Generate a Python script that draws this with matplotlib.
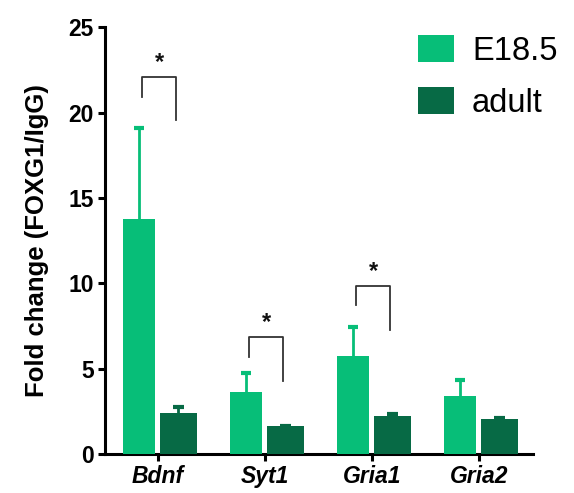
import matplotlib
matplotlib.use('Agg')
import matplotlib.pyplot as plt
import numpy as np

plt.rcParams['font.family'] = ['Liberation Sans', 'DejaVu Sans']

genes = ['Bdnf', 'Syt1', 'Gria1', 'Gria2']
groups = ['E18.5', 'adult']
e185_mean = [13.75, 3.63, 5.74, 3.4]
e185_err = [5.35, 1.1, 1.7, 0.93]
adult_mean = [2.42, 1.62, 2.2, 2.05]
adult_err = [0.33, 0.05, 0.12, 0.08]

# significance brackets: gene index, top, left leg bottom, right leg bottom
sig_idx = [0, 1, 2]
sig_top = [22.07, 6.85, 9.84]
sig_left = [20.9, 5.68, 8.72]
sig_right = [19.55, 4.27, 7.26]

c_young = '#07be78'
c_adult = '#076a45'

fig = plt.figure(figsize=(5.74, 4.93), dpi=100)
ax = fig.add_axes([0.183, 0.079, 0.746, 0.866])

x = np.arange(len(genes))
pos_y = x - 0.18
pos_a = x + 0.19
ax.bar(pos_y, e185_mean, width=0.30, color=c_young, label=groups[0], zorder=3)
ax.bar(pos_a, adult_mean, width=0.34, color=c_adult, label=groups[1], zorder=3)

# upper-only error bars
for pos, m, e, c in [(pos_y, e185_mean, e185_err, c_young),
                     (pos_a, adult_mean, adult_err, c_adult)]:
    top = np.array(m) + np.array(e)
    ax.vlines(pos, m, top, color=c, lw=2, zorder=2)
    ax.hlines(top, pos - 0.048, pos + 0.048, color=c, lw=3, zorder=2)

for i, t, l, r in zip(sig_idx, sig_top, sig_left, sig_right):
    xl = i - 0.15
    xr = i + 0.17
    ax.plot([xl, xl, xr, xr], [l, t, t, r], color='#333333', lw=1.3)
    ax.text((xl + xr) / 2, t + 0.2, '*', ha='center', va='bottom',
            fontsize=17, fontweight='bold', color='#111111')

ax.set_xlim(-0.495, 3.505)
ax.set_ylim(0, 25)
ax.set_yticks([0, 5, 10, 15, 20, 25])
ax.set_xticks(x)
ax.set_xticklabels(genes, fontstyle='italic', fontweight='bold', fontsize=16.5)
for lab in ax.get_yticklabels():
    lab.set_fontweight('bold')
    lab.set_fontsize(16.5)
ax.set_ylabel('Fold change (FOXG1/IgG)', fontweight='bold', fontsize=18.5,
              labelpad=14)

for s in ['top', 'right']:
    ax.spines[s].set_visible(False)
for s in ['left', 'bottom']:
    ax.spines[s].set_linewidth(2.2)
ax.tick_params(width=2.2, length=5, direction='out', pad=3)

ax.legend(loc='upper right', bbox_to_anchor=(1.125, 1.05), frameon=False,
          fontsize=23.5, handlelength=1.1, handleheight=0.9, labelspacing=0.62,
          handletextpad=0.55)

fig.savefig('out.png', dpi=100)
